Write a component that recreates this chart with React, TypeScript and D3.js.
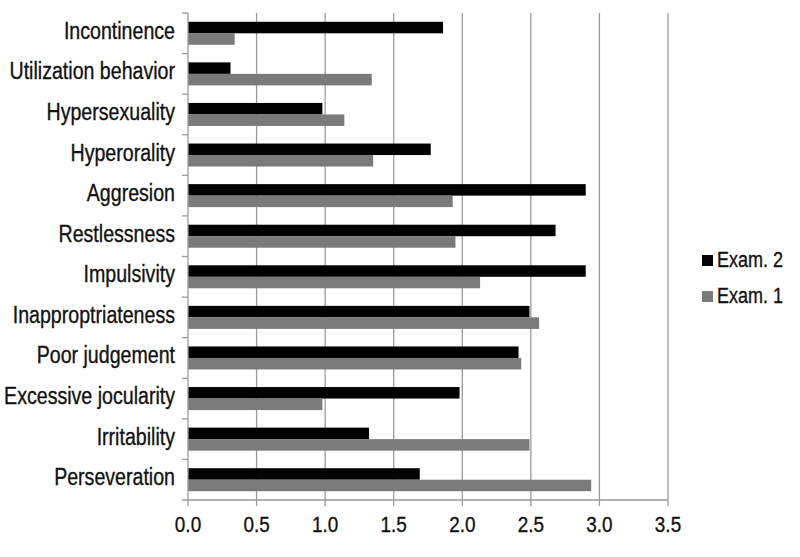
import React from "react";
import * as d3 from "d3";

const categories = [
  "Incontinence",
  "Utilization behavior",
  "Hypersexuality",
  "Hyperorality",
  "Aggresion",
  "Restlessness",
  "Impulsivity",
  "Inapproptriateness",
  "Poor judgement",
  "Excessive jocularity",
  "Irritability",
  "Perseveration",
];
const exam2 = [1.86, 0.31, 0.98, 1.77, 2.9, 2.68, 2.9, 2.49, 2.41, 1.98, 1.32, 1.69];
const exam1 = [0.34, 1.34, 1.14, 1.35, 1.93, 1.95, 2.13, 2.56, 2.43, 0.98, 2.49, 2.94];
const xTicks = [0, 0.5, 1, 1.5, 2, 2.5, 3, 3.5];
const seriesNames = ["Exam. 2", "Exam. 1"];
const seriesColors = ["#000000", "#7a7a7a"];

const W = 800;
const H = 557;
const FONT = "'Liberation Sans', Arial, sans-serif";

function CText(props: {
  x: number;
  y: number;
  sx: number;
  size: number;
  anchor?: "start" | "middle" | "end";
  children: React.ReactNode;
}) {
  const { x, y, sx, size, anchor = "start", children } = props;
  return (
    <g transform={`translate(${x},${y}) scale(${sx},1)`}>
      <text x={0} y={0} textAnchor={anchor} fontSize={size} fill="#111" stroke="#111" strokeWidth={0.35}>
        {children}
      </text>
    </g>
  );
}

export default function App() {
  const left = 188;
  const right = 668;
  const top = 13;
  const bottom = 500;
  const x = d3.scaleLinear().domain([0, 3.5]).range([left, right]);
  const y = d3.scaleBand<string>().domain(categories).range([top, bottom]).paddingInner(0).paddingOuter(0);
  const band = y.bandwidth();
  const barH = 11.5;
  const series = [exam2, exam1];
  const gridColor = "#9a9a9a";

  return (
    <svg
      width={W}
      height={H}
      style={{ position: "absolute", left: 0, top: 0, background: "#fff" }}
      fontFamily={FONT}
    >
      <rect x={0} y={0} width={W} height={H} fill="#fff" />
      {/* vertical gridlines */}
      {xTicks.slice(1).map((t) => (
        <line key={"g" + t} x1={x(t)} x2={x(t)} y1={top} y2={bottom} stroke={gridColor} strokeWidth={1.3} />
      ))}
      {/* bars */}
      {categories.map((c, i) => {
        const cy = (y(c) as number) + band / 2;
        return series.map((s, si) => (
          <rect
            key={c + si}
            x={x(0)}
            y={cy - barH + si * barH}
            width={x(s[i]) - x(0)}
            height={barH}
            fill={seriesColors[si]}
          />
        ));
      })}
      {/* left axis */}
      <line x1={left} x2={left} y1={top} y2={bottom} stroke={gridColor} strokeWidth={1.3} />
      {categories.map((c) => (
        <line key={"lt" + c} x1={left - 6} x2={left} y1={y(c)} y2={y(c)} stroke={gridColor} strokeWidth={1.3} />
      ))}
      {/* bottom axis */}
      <line x1={left - 6} x2={right} y1={bottom} y2={bottom} stroke={gridColor} strokeWidth={1.3} />
      {xTicks.map((t) => (
        <g key={"xt" + t}>
          <line x1={x(t)} x2={x(t)} y1={bottom} y2={bottom + 6} stroke={gridColor} strokeWidth={1.3} />
          <CText x={x(t)} y={532} sx={0.86} size={22} anchor="middle">
            {d3.format(".1f")(t)}
          </CText>
        </g>
      ))}
      {/* category labels */}
      {categories.map((c) => (
        <CText key={"cl" + c} x={175} y={(y(c) as number) + band / 2 + 5.5} sx={0.8} size={24.5} anchor="end">
          {c}
        </CText>
      ))}
      {/* legend */}
      {seriesNames.map((n, i) => (
        <g key={n} transform={`translate(702, ${255 + i * 36})`}>
          <rect x={0} y={0} width={11} height={11} fill={seriesColors[i]} />
          <CText x={15} y={11.5} sx={0.8} size={22.5}>
            {n}
          </CText>
        </g>
      ))}
    </svg>
  );
}
